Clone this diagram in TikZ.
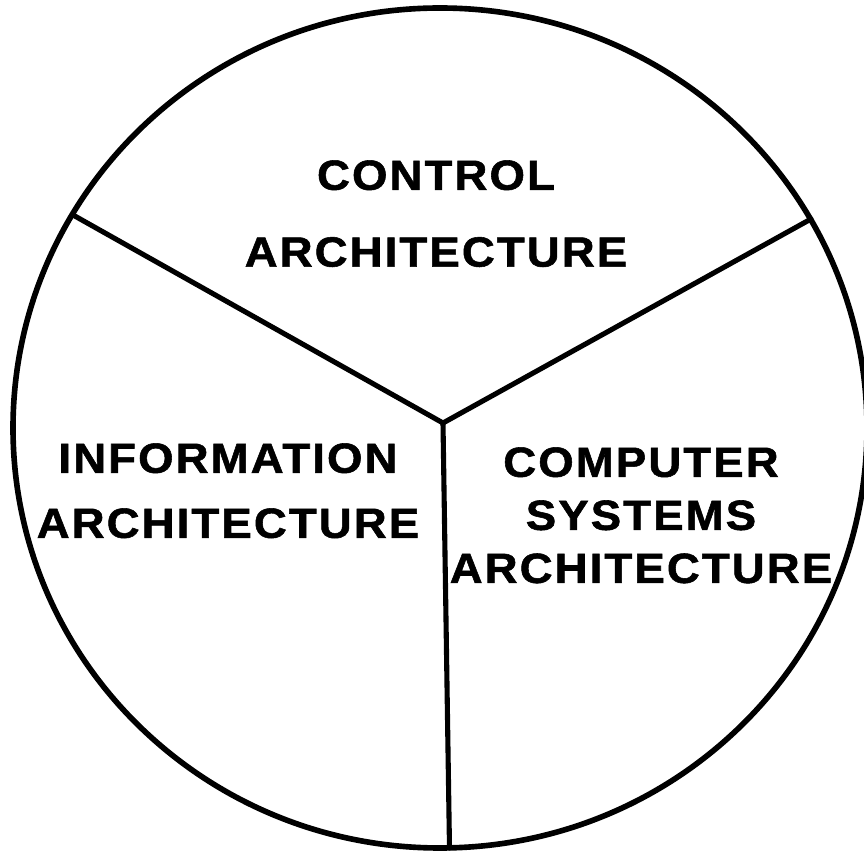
\documentclass[tikz,border=0pt]{standalone}
\usepackage{fontspec}
\newfontfamily\archfont{Liberation Sans}[FakeStretch=1.08, LetterSpace=5, FakeBold=1.3]
\usetikzlibrary{positioning}
\tikzset{
	rim/.style={line width=3.2pt},
	spoke/.style={line width=2.9pt, line join=round, line cap=round},
	sector/.style={inner sep=0pt, anchor=north, align=center}
}
\begin{document}
\begin{tikzpicture}
	\useasboundingbox (0,0) rectangle (17.28,17.02);
	\coordinate (c) at (8.80,8.46);
	\coordinate (hub) at (8.86,8.56); \coordinate (ul) at (1.46,12.72); \coordinate (ur) at (16.22,12.64); \coordinate (bot) at (8.99,0.06);
	\draw[rim] (c) ellipse [x radius=8.54, y radius=8.40];
	\draw[spoke] (ul) -- (hub) -- (ur);
	\draw[spoke] (hub) -- (bot);

	\node[sector, font=\archfont\bfseries\fontsize{24}{43.7}\selectfont] (control) at (8.72,13.82) {CONTROL\\ARCHITECTURE};
	\node[sector, font=\archfont\bfseries\fontsize{24}{37}\selectfont] (info) at (4.56,8.16) {INFORMATION\\ARCHITECTURE};
	\node[sector, font=\archfont\bfseries\fontsize{24}{30.2}\selectfont] (comp) at (12.82,8.08) {COMPUTER\\SYSTEMS\\ARCHITECTURE};
\end{tikzpicture}
\end{document}
